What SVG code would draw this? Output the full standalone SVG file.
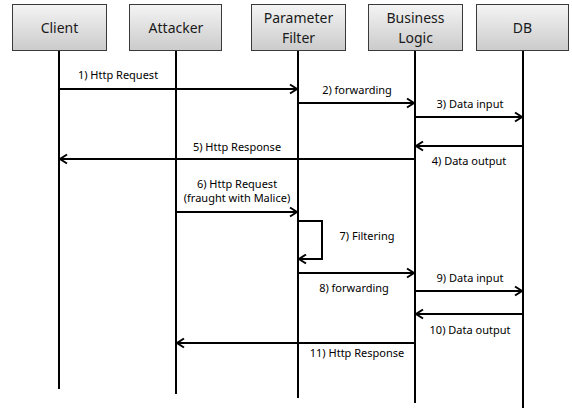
<svg xmlns="http://www.w3.org/2000/svg" width="572" height="409" viewBox="0 0 572 409">
  <style>
    .box { fill: url(#boxFill); stroke: #3a3a3a; stroke-width: 1; }
    .name { font-family: "Noto Sans", "Open Sans", sans-serif; font-size: 14px; fill: #1a1a1a; text-anchor: middle; }
    .life { stroke: #000; stroke-width: 2; fill: none; }
    .msg { stroke: #000; stroke-width: 2; fill: none; marker-end: url(#arrow); }
    .lbl { font-family: "Noto Sans", "Open Sans", sans-serif; font-size: 11px; fill: #000; text-anchor: middle; }
  </style>
  <defs>
    <linearGradient id="boxFill" x1="0" y1="0" x2="0" y2="1">
      <stop offset="0" stop-color="#f4f4f4"/>
      <stop offset="1" stop-color="#cbcbcb"/>
    </linearGradient>
    <marker id="arrow" markerUnits="userSpaceOnUse" markerWidth="12" markerHeight="12" refX="9" refY="6" orient="auto">
      <path d="M2,1.5 L9,6 L2,10.5" fill="none" stroke="#000" stroke-width="2"/>
    </marker>
  </defs>

  <rect width="572" height="409" fill="#fff"/>

  <!-- participants -->
  <g id="client">
    <rect class="box" x="12.5" y="4.5" width="94" height="46"/>
    <text class="name" x="59.5" y="33">Client</text>
    <line class="life" x1="59" y1="51" x2="59" y2="389"/>
  </g>
  <g id="attacker">
    <rect class="box" x="129.5" y="4.5" width="92" height="46"/>
    <text class="name" x="176" y="33">Attacker</text>
    <line class="life" x1="176" y1="51" x2="176" y2="394"/>
  </g>
  <g id="parameter-filter">
    <rect class="box" x="251.5" y="4.5" width="94" height="46"/>
    <text class="name" x="298.5" y="23">Parameter</text>
    <text class="name" x="298.5" y="43">Filter</text>
    <line class="life" x1="298" y1="51" x2="298" y2="398"/>
  </g>
  <g id="business-logic">
    <rect class="box" x="368.5" y="4.5" width="94" height="46"/>
    <text class="name" x="415.5" y="23">Business</text>
    <text class="name" x="415.5" y="43">Logic</text>
    <line class="life" x1="415" y1="51" x2="415" y2="403"/>
  </g>
  <g id="db">
    <rect class="box" x="476.5" y="4.5" width="92" height="46"/>
    <text class="name" x="522.5" y="33">DB</text>
    <line class="life" x1="523" y1="51" x2="523" y2="408"/>
  </g>

  <!-- messages -->
  <g id="connectors">
    <line class="msg" x1="59" y1="89" x2="297" y2="89"/>
    <line class="msg" x1="298" y1="103" x2="414" y2="103"/>
    <line class="msg" x1="415" y1="117" x2="522" y2="117"/>
    <line class="msg" x1="523" y1="146" x2="416" y2="146"/>
    <line class="msg" x1="415" y1="159" x2="60" y2="159"/>
    <line class="msg" x1="176" y1="212" x2="297" y2="212"/>
    <polyline class="msg" points="298,221 322,221 322,259 299,259"/>
    <line class="msg" x1="298" y1="273" x2="414" y2="273"/>
    <line class="msg" x1="415" y1="291" x2="522" y2="291"/>
    <line class="msg" x1="523" y1="314" x2="416" y2="314"/>
    <line class="msg" x1="415" y1="343" x2="177" y2="343"/>
  </g>

  <!-- message labels -->
  <g id="labels">
    <text class="lbl" x="118" y="79">1) Http Request</text>
    <text class="lbl" x="357" y="94">2) forwarding</text>
    <text class="lbl" x="470" y="108">3) Data input</text>
    <text class="lbl" x="469" y="165">4) Data output</text>
    <text class="lbl" x="237" y="151">5) Http Response</text>
    <text class="lbl" x="237" y="188">6) Http Request</text>
    <text class="lbl" x="237" y="202">(fraught with Malice)</text>
    <text class="lbl" x="367" y="240">7) Filtering</text>
    <text class="lbl" x="354" y="292">8) forwarding</text>
    <text class="lbl" x="470" y="282">9) Data input</text>
    <text class="lbl" x="470" y="334">10) Data output</text>
    <text class="lbl" x="357" y="357">11) Http Response</text>
  </g>
</svg>
